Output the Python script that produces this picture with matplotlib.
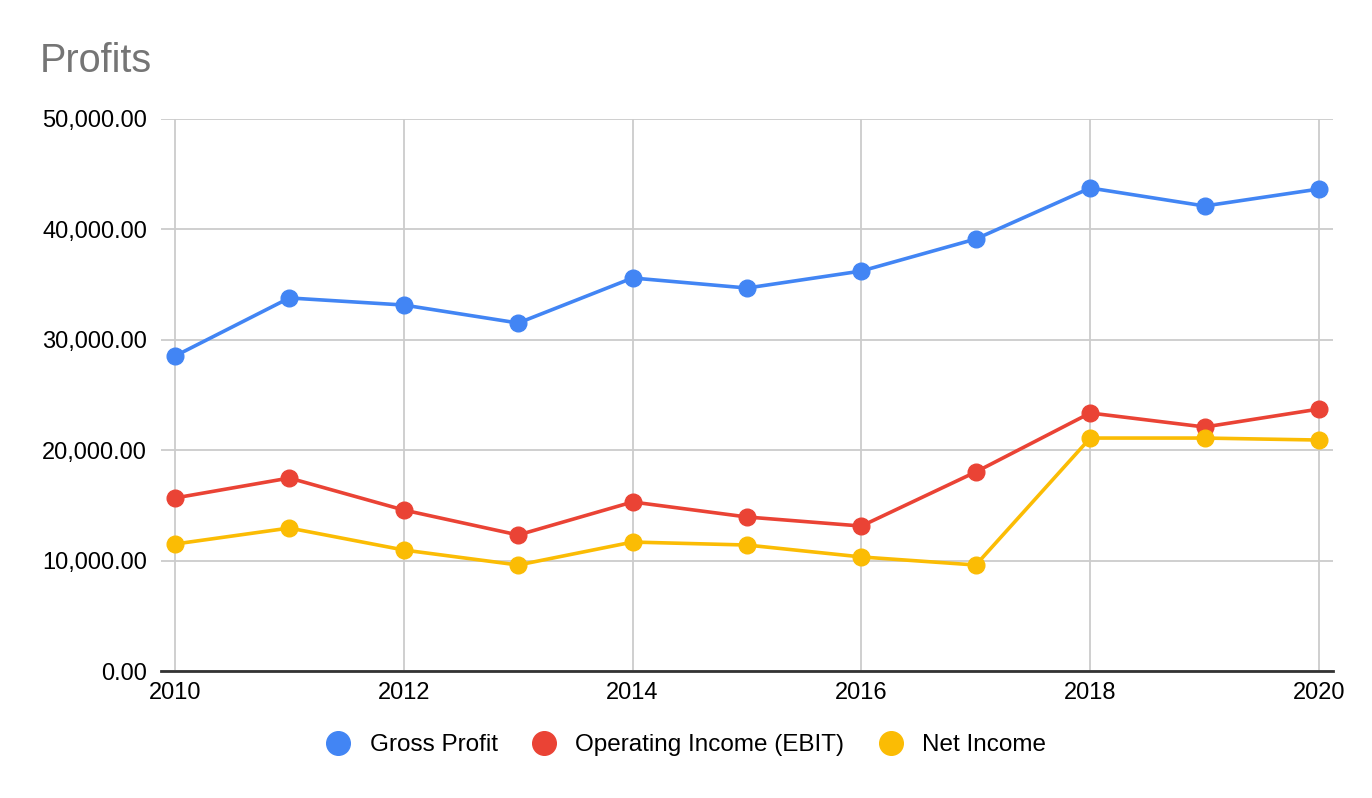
import matplotlib
matplotlib.use("Agg")
import matplotlib.pyplot as plt
from matplotlib.ticker import FuncFormatter, MultipleLocator

years = [2010, 2011, 2012, 2013, 2014, 2015, 2016, 2017, 2018, 2019, 2020]
gross_profit = [28530, 33790, 33150, 31520, 35600, 34690, 36230, 39130, 43750, 42120, 43660]
operating_income = [15670, 17480, 14580, 12320, 15310, 13950, 13130, 18030, 23370, 22100, 23730]
net_income = [11500, 12950, 10960, 9600, 11680, 11410, 10330, 9600, 21100, 21100, 20920]
series_names = ["Gross Profit", "Operating Income (EBIT)", "Net Income"]
colors = ["#4285F4", "#EA4335", "#FBBC04"]

plt.rcParams['font.family'] = ['Liberation Sans', 'DejaVu Sans']

fig = plt.figure(figsize=(13.72, 7.98), dpi=100)
ax = fig.add_axes([161/1372, 1-671/798, (1333-161)/1372, (671-119)/798])

for vals, name, c in zip([gross_profit, operating_income, net_income], series_names, colors):
    ax.plot(years, vals, color=c, lw=2.6, marker='o', markersize=12, label=name,
            solid_capstyle='round', zorder=3)

ax.set_ylim(0, 50000)
ax.set_xlim(2010 - 0.122, 2020 + 0.122)
ax.yaxis.set_major_locator(MultipleLocator(10000))
ax.xaxis.set_major_locator(MultipleLocator(2))
ax.yaxis.set_major_formatter(FuncFormatter(lambda v, p: f"{v:,.2f}"))
ax.xaxis.set_major_formatter(FuncFormatter(lambda v, p: f"{int(v)}"))
ax.grid(True, color="#cccccc", lw=1.3, zorder=0)
ax.set_axisbelow(True)
for s in ['top', 'right', 'left']:
    ax.spines[s].set_visible(False)
ax.spines['bottom'].set_color('#333333')
ax.spines['bottom'].set_linewidth(2)
ax.spines['bottom'].set_zorder(2)
ax.tick_params(axis='both', length=0, labelsize=17, colors='#000000')
ax.tick_params(axis='y', pad=10)
ax.tick_params(axis='x', pad=8)

fig.text(40/1372, 1-72/798, "Profits", fontsize=28.5, color="#757575", ha='left', va='baseline')

leg = fig.legend(loc='center', bbox_to_anchor=(0.5, 1-745/798), ncol=3, frameon=False,
                 fontsize=17.5, handlelength=1.0, handletextpad=0.8, columnspacing=1.4)
for h in leg.legend_handles:
    h.set_linestyle('None')
    h.set_markersize(17)

fig.savefig("out.png", dpi=100)
